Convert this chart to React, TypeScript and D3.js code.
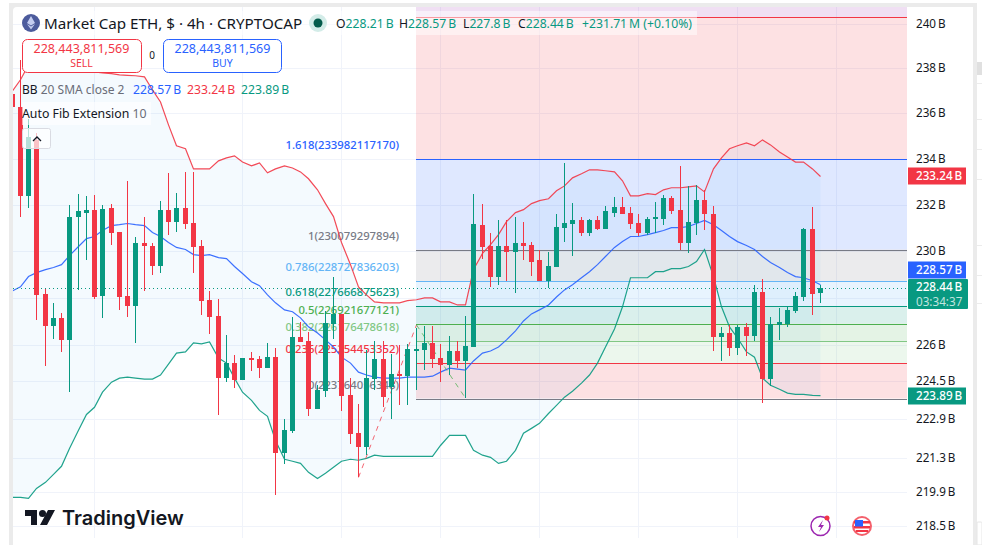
import * as d3 from "d3";

// all prices in billions, one row per 4h bar: [high, open, close, low]
const candleRows = [
  [237.04, 236.86, 236.29, 236.29], [238.37, 236.29, 232.40, 231.50], [235.76, 232.40, 234.97, 231.89], [235.14, 234.84, 228.14, 227.08],
  [228.40, 228.18, 226.82, 225.13], [227.80, 226.82, 227.16, 226.27], [227.38, 227.16, 226.23, 225.72], [232.01, 226.23, 231.50, 224.03],
  [232.49, 231.46, 231.72, 228.35], [232.40, 231.67, 231.80, 229.61], [232.45, 231.80, 228.05, 227.97], [232.01, 228.10, 231.84, 227.16],
  [232.06, 231.89, 230.81, 230.29], [230.85, 230.85, 228.05, 227.50], [233.05, 228.10, 227.67, 227.20], [230.60, 227.67, 230.34, 226.10],
  [231.50, 230.34, 230.21, 228.31], [230.34, 230.25, 229.39, 229.00], [232.19, 229.39, 231.80, 229.09], [233.40, 231.80, 231.28, 230.72],
  [232.53, 231.28, 231.89, 230.85], [233.44, 231.89, 231.20, 230.98], [233.44, 231.24, 230.17, 229.09], [230.47, 230.21, 227.89, 227.29],
  [228.31, 227.93, 227.20, 226.48], [227.97, 227.25, 224.62, 223.06], [226.44, 224.62, 225.25, 224.45], [225.59, 225.25, 224.53, 224.19],
  [225.46, 224.53, 225.46, 224.53], [225.72, 225.46, 225.42, 224.92], [225.55, 225.42, 225.04, 224.62], [226.10, 225.04, 225.50, 225.04],
  [225.88, 225.50, 221.49, 219.75], [222.93, 221.49, 222.44, 221.03], [227.20, 222.40, 226.36, 222.32], [226.99, 226.36, 226.14, 226.14],
  [226.57, 226.18, 223.31, 223.02], [224.32, 223.31, 224.11, 223.31], [227.46, 224.07, 226.95, 223.82], [228.92, 226.91, 227.33, 226.27],
  [227.33, 227.33, 223.86, 223.23], [224.62, 223.90, 222.27, 221.89], [223.52, 222.32, 221.73, 220.49], [225.80, 221.73, 224.62, 221.41],
  [226.18, 224.58, 225.42, 224.11], [226.18, 225.42, 223.82, 223.40], [225.63, 224.24, 224.79, 222.89], [226.01, 224.79, 224.70, 223.48],
  [226.06, 224.70, 225.84, 223.48], [226.74, 225.80, 225.84, 224.11], [226.82, 225.80, 226.10, 224.96], [226.82, 226.10, 225.42, 225.04],
  [226.06, 225.46, 225.17, 224.45], [226.40, 225.17, 225.76, 224.75], [226.18, 225.76, 225.34, 225.04], [227.25, 225.34, 225.97, 223.78],
  [232.49, 225.93, 231.20, 225.93], [232.06, 231.15, 230.17, 229.69], [230.77, 230.21, 228.92, 228.48], [231.33, 228.92, 230.21, 228.57],
  [231.33, 230.21, 229.99, 228.74], [231.46, 229.99, 230.38, 228.23], [231.28, 230.38, 230.25, 229.61], [230.42, 230.29, 229.56, 228.96],
  [230.08, 229.61, 228.74, 228.74], [229.99, 228.74, 229.39, 228.44], [231.63, 229.35, 231.07, 229.35], [233.83, 231.02, 231.24, 230.42],
  [232.10, 231.20, 231.37, 229.82], [231.46, 231.37, 230.77, 230.64], [231.41, 230.77, 231.37, 230.68], [231.54, 231.37, 230.98, 230.90],
  [231.97, 230.98, 231.72, 230.98], [232.36, 231.67, 231.93, 231.46], [232.36, 231.93, 231.63, 231.59], [231.93, 231.67, 231.20, 230.98],
  [231.59, 231.24, 230.81, 230.68], [231.50, 230.81, 231.41, 230.72], [232.14, 231.41, 231.46, 230.81], [232.45, 231.41, 232.32, 231.15],
  [232.40, 232.32, 231.76, 231.63], [233.70, 231.80, 230.38, 230.08], [232.83, 230.38, 231.28, 229.95], [232.88, 231.24, 232.23, 230.72],
  [232.66, 232.23, 231.59, 230.94], [231.97, 231.63, 226.36, 225.76], [226.78, 226.36, 226.52, 225.34], [226.86, 226.52, 225.88, 225.55],
  [226.86, 225.88, 226.78, 225.59], [226.95, 226.78, 226.40, 225.55], [228.57, 226.40, 228.27, 226.18], [228.83, 228.27, 224.58, 223.56],
  [227.20, 224.58, 226.91, 224.28], [227.59, 226.86, 226.99, 226.23], [227.63, 226.91, 227.50, 226.78], [228.27, 227.46, 228.10, 227.38],
  [231.02, 228.05, 230.98, 227.89], [231.93, 230.98, 228.18, 227.29], [228.57, 228.21, 228.44, 227.80],
];

const bbUpper = [
  237.00, 237.49, 238.15, 238.37, 238.37, 238.37, 238.28, 238.15, 238.02, 237.89, 237.84, 237.80, 237.76, 237.71, 237.69, 237.67, 237.62, 237.04, 236.51, 235.50,
  234.58, 234.45, 233.57, 233.57, 233.57, 233.92, 234.05, 234.14, 233.87, 233.70, 233.83, 233.40, 233.57, 233.70, 233.61, 233.44, 233.14, 232.66, 232.06, 231.50,
  230.38, 229.43, 228.48, 228.14, 227.84, 227.80, 227.80, 227.80, 227.89, 227.93, 228.01, 228.01, 227.84, 227.84, 227.71, 227.71, 229.22, 229.91, 230.29, 230.72,
  231.28, 231.67, 231.80, 232.06, 232.19, 232.27, 232.62, 232.83, 233.18, 233.36, 233.53, 233.53, 233.49, 233.44, 233.05, 232.40, 232.40, 232.49, 232.45, 232.66,
  232.75, 232.75, 232.79, 232.83, 232.57, 233.57, 234.05, 234.45, 234.58, 234.71, 234.58, 234.84, 234.62, 234.31, 234.09, 233.87, 233.87, 233.57, 233.24,
];

const bbBasis = [
  228.31, 228.48, 228.92, 229.09, 229.22, 229.31, 229.43, 229.82, 230.21, 230.55, 230.64, 230.90, 231.11, 231.15, 231.20, 231.15, 231.11, 230.81, 230.64, 230.38,
  230.17, 230.08, 229.86, 229.82, 229.86, 229.73, 229.69, 229.35, 229.05, 228.70, 228.53, 228.14, 227.80, 227.50, 227.42, 227.16, 226.78, 226.52, 226.23, 225.93,
  225.50, 225.25, 224.87, 224.75, 224.66, 224.62, 224.62, 224.62, 224.66, 224.66, 224.66, 224.70, 224.87, 225.04, 225.00, 224.96, 225.34, 225.67, 225.76, 225.93,
  226.23, 226.61, 227.03, 227.33, 227.50, 227.71, 228.05, 228.35, 228.57, 228.87, 229.13, 229.43, 229.78, 230.17, 230.42, 230.64, 230.64, 230.72, 230.81, 230.90,
  231.02, 231.02, 231.07, 231.20, 231.33, 231.15, 230.90, 230.64, 230.42, 230.25, 230.08, 229.78, 229.52, 229.31, 229.09, 228.92, 228.87, 228.74, 228.57,
];

const bbLower = [
  219.67, 219.67, 219.63, 220.04, 220.29, 220.62, 220.95, 221.69, 222.44, 223.10, 223.40, 224.03, 224.45, 224.62, 224.66, 224.62, 224.58, 224.58, 224.75, 225.21,
  225.67, 225.72, 226.10, 226.06, 226.14, 225.46, 225.25, 224.62, 224.03, 223.69, 223.27, 223.02, 222.02, 221.24, 221.16, 221.07, 220.70, 220.45, 220.66, 220.91,
  221.16, 221.24, 221.20, 221.28, 221.41, 221.36, 221.36, 221.36, 221.36, 221.36, 221.36, 221.36, 221.81, 222.23, 222.23, 222.23, 221.61, 221.41, 221.32, 221.07,
  221.16, 221.61, 222.32, 222.52, 222.73, 223.14, 223.48, 223.82, 224.07, 224.41, 224.75, 225.25, 225.93, 226.69, 227.63, 228.87, 228.87, 228.87, 229.13, 229.13,
  229.26, 229.26, 229.35, 229.56, 230.08, 228.92, 227.63, 226.78, 226.31, 225.72, 225.50, 224.62, 224.32, 224.15, 223.99, 223.94, 223.94, 223.90, 223.89,
];

const priceTicks = [240, 238, 236, 234, 232, 230, 228, 226, 224.5, 222.9, 221.3, 219.9, 218.5];
const hiddenTickLabels = [228]; // sits under the last price tag
const timeGridBars = [10, 28, 40, 52, 64, 76, 88, 100];

const fibRatios = [4.236, 2.618, 1.618, 1, 0.786, 0.618, 0.5, 0.382, 0.236, 0];
const fibPrices = [
  250509273636, 240297358715, 233982117170, 230079297894, 228727836203, 227666875623, 226921677121, 226176478618, 225254453352,
  223764056348,
];
const fibColors = ["#9c27b0", "#f23645", "#2962ff", "#787b86", "#64b5f6", "#089981", "#4caf50", "#81c784", "#f23645", "#787b86"];
const FIRST_LABELLED_FIB = 2; // the two levels above this run off the top of the pane

// fib swing: low bar, high bar, retrace bar
const swingBars = [42, 49, 55];
const swingPrices = [220.49, 226.86, 223.78];

const RED = "#f23645";
const GREEN = "#089981";
const BLUE = "#2962ff";
const INK = "#131722";
const FONT = "'Noto Sans', sans-serif";
const LAST = 228.44;

const y = d3.scaleLog().domain([218.5, 240]).range([526, 23.5]);
const x = d3.scaleLinear().domain([0, 98]).range([12.05, 820.3]);
const CHART_RIGHT = 907;
const FIB_LEFT = 416;

const barX = (i: number) => Math.floor(x(i)) + 0.5;
const bandLine = d3.line<number>().x((_, i) => barX(i)).y((v) => y(v));
const bandArea = d3
  .area<number>()
  .x((_, i) => barX(i))
  .y0((_, i) => y(bbLower[i]))
  .y1((v) => y(v));

const ohlcItems = [
  { key: "O", value: "228.21\u2009B", x: 336 },
  { key: "H", value: "228.57\u2009B", x: 399 },
  { key: "L", value: "227.8\u2009B", x: 463 },
  { key: "C", value: "228.44\u2009B", x: 518 },
];
const sidebarLines = [83, 119, 149, 179, 245, 275, 303];

// nudge moves a tag off the last-price box, as the price scale stacks them
function PriceTag({ price, label, fill, nudge = 0 }: { price: number; label: string; fill: string; nudge?: number }) {
  const cy = Math.round(y(price)) + nudge;
  return (
    <g>
      <rect x={908} y={cy - 8.5} width={58} height={17} fill={fill} />
      <text x={916} y={cy + 4} fontSize={11.7} fontWeight={500} fill="#fff">
        {label}
      </text>
    </g>
  );
}

export default function App() {
  const swingA = { x1: barX(swingBars[0]), y1: y(swingPrices[0]), x2: barX(swingBars[1]), y2: y(swingPrices[1]) };
  const swingB = { x1: barX(swingBars[1]), y1: y(swingPrices[1]), x2: barX(swingBars[2]), y2: y(swingPrices[2]) };

  return (
    <div>
      <style>{`body{margin:0;background:#fff}`}</style>
      <svg width={982} height={545} style={{ display: "block" }} fontFamily={FONT}>
        <defs>
          <clipPath id="pane">
            <rect x={13} y={7} width={CHART_RIGHT - 13} height={533} />
          </clipPath>
        </defs>

        <rect width={982} height={545} fill="#fff" />
        <rect x={9} y={3} width={968} height={542} fill="#ebebeb" />
        <path d="M17 7H969a4 4 0 0 1 4 4V545H13V11a4 4 0 0 1 4-4Z" fill="#fff" />
        <rect x={977} y={62} width={5} height={13} fill="#e0e0e0" />
        {sidebarLines.map((ly) => (
          <rect key={ly} x={977} y={ly} width={5} height={1} fill="#ececec" />
        ))}

        <g clipPath="url(#pane)">
          {priceTicks.map((t) => (
            <line key={t} x1={13} x2={CHART_RIGHT} y1={Math.round(y(t)) + 0.5} y2={Math.round(y(t)) + 0.5} stroke="#f0f3fa" />
          ))}
          {timeGridBars.map((b) => (
            <line key={b} x1={barX(b)} x2={barX(b)} y1={7} y2={538} stroke="#f0f3fa" />
          ))}

          {/* fib extension zones, each coloured by its upper level */}
          {fibPrices.slice(0, -1).map((p, i) => {
            const top = y(p / 1e9);
            const bottom = y(fibPrices[i + 1] / 1e9);
            return <rect key={p} x={FIB_LEFT} y={top} width={CHART_RIGHT - FIB_LEFT} height={bottom - top} fill={fibColors[i]} opacity={0.15} />;
          })}

          <path d={bandArea(bbUpper) ?? ""} fill="#2196f3" opacity={0.05} />

          {fibPrices.map((p, i) => (
            <line
              key={p}
              x1={FIB_LEFT}
              x2={CHART_RIGHT}
              y1={Math.round(y(p / 1e9)) + 0.5}
              y2={Math.round(y(p / 1e9)) + 0.5}
              stroke={fibColors[i]}
              strokeWidth={1}
            />
          ))}

          {fibPrices.map((p, i) =>
            i < FIRST_LABELLED_FIB ? null : (
              <text key={p} x={399} y={y(p / 1e9) - 10} textAnchor="end" fontSize={11.3} fontWeight={500} fill={fibColors[i]}>
                {fibRatios[i]}({p})
              </text>
            ),
          )}

          <path d={bandLine(bbUpper) ?? ""} fill="none" stroke={RED} strokeWidth={1.2} strokeOpacity={0.9} />
          <path d={bandLine(bbBasis) ?? ""} fill="none" stroke={BLUE} strokeWidth={1.2} strokeOpacity={0.9} />
          <path d={bandLine(bbLower) ?? ""} fill="none" stroke={GREEN} strokeWidth={1.2} strokeOpacity={0.9} />

          <line {...swingA} stroke={RED} strokeDasharray="5 5" strokeWidth={1} opacity={0.75} />
          <line {...swingB} stroke="#4caf50" strokeDasharray="5 5" strokeWidth={1} opacity={0.75} />

          <line x1={13} x2={CHART_RIGHT} y1={Math.round(y(LAST)) + 0.5} y2={Math.round(y(LAST)) + 0.5} stroke={GREEN} strokeDasharray="1 3" />

          {candleRows.map(([high, open, close, low], i) => {
            const up = close >= open;
            const fill = up ? GREEN : RED;
            const cx = barX(i);
            const bodyTop = Math.round(y(Math.max(open, close)));
            const bodyBottom = Math.round(y(Math.min(open, close)));
            return (
              <g key={i} fill={fill}>
                <rect x={cx - 0.5} y={Math.round(y(high))} width={1} height={Math.max(1, Math.round(y(low)) - Math.round(y(high)))} />
                <rect x={cx - 2.5} y={bodyTop} width={5} height={Math.max(2, bodyBottom - bodyTop)} />
              </g>
            );
          })}
        </g>

        {/* price scale */}
        <rect x={CHART_RIGHT} y={7} width={66} height={538} fill="#fff" />
        {priceTicks
          .filter((t) => !hiddenTickLabels.includes(t))
          .map((t) => (
            <text key={t} x={916} y={y(t) + 4} fontSize={11.7} fill={INK}>
              {t}
              {"\u2009"}B
            </text>
          ))}
        <PriceTag price={233.24} label={"233.24\u2009B"} fill={RED} />
        <PriceTag price={228.57} label={"228.57\u2009B"} fill={BLUE} nudge={-15} />
        <PriceTag price={223.89} label={"223.89\u2009B"} fill={GREEN} />
        <rect x={908} y={279} width={60} height={30} fill={GREEN} rx={1} />
        <text x={916} y={291} fontSize={11.7} fontWeight={500} fill="#fff">
          {"228.44\u2009B"}
        </text>
        <text x={916} y={306} fontSize={11.7} fill="#fff" fillOpacity={0.75}>
          03:34:37
        </text>

        {/* header legend */}
        <rect x={22} y={11} width={675} height={24} fill="#fff" opacity={0.5} />
        <circle cx={31} cy={23} r={9} fill="#4c5b9c" />
        <path d="M31 16l4 7-4 2.4-4-2.4ZM27 24l4 2.4 4-2.4-4 5.6Z" fill="#c4cdf0" />
        <text x={44} y={29} fontSize={15.2} fill={INK}>
          Market Cap ETH, $ · 4h · CRYPTOCAP
        </text>
        <circle cx={318} cy={23} r={9} fill="#d3ece8" />
        <circle cx={318} cy={23} r={4.5} fill="#045c4c" />
        {ohlcItems.map((d) => (
          <text key={d.key} x={d.x} y={28} fontSize={12.2}>
            <tspan fill={INK}>{d.key}</tspan>
            <tspan fill={GREEN}>{d.value}</tspan>
          </text>
        ))}
        <text x={582} y={28} fontSize={12.2} fill={GREEN}>
          {"+231.71\u2009M (+0.10%)"}
        </text>

        <rect x={22.5} y={39.5} width={119} height={33} rx={5} fill="#fff" stroke={RED} />
        <text x={81.5} y={53} textAnchor="middle" fontSize={12.5} fill={RED}>
          228,443,811,569
        </text>
        <text x={81.5} y={67} textAnchor="middle" fontSize={10.5} fill={RED}>
          SELL
        </text>
        <text x={152} y={59} textAnchor="middle" fontSize={10} fill={INK}>
          0
        </text>
        <rect x={163.5} y={39.5} width={118} height={33} rx={5} fill="#fff" stroke={BLUE} />
        <text x={222.5} y={53} textAnchor="middle" fontSize={12.5} fill={BLUE}>
          228,443,811,569
        </text>
        <text x={222.5} y={67} textAnchor="middle" fontSize={10.5} fill={BLUE}>
          BUY
        </text>

        <text x={22} y={94} fontSize={12}>
          <tspan fill={INK}>BB</tspan>
          <tspan fill="#6a6d78"> 20 SMA close 2</tspan>
        </text>
        <text x={133} y={94} fontSize={12.2} fill={BLUE}>
          {"228.57\u2009B"}
        </text>
        <text x={187} y={94} fontSize={12.2} fill={RED}>
          {"233.24\u2009B"}
        </text>
        <text x={241} y={94} fontSize={12.2} fill={GREEN}>
          {"223.89\u2009B"}
        </text>

        <rect x={22} y={102} width={129} height={23} fill="#fff" opacity={0.6} />
        <text x={22} y={118} fontSize={12.3}>
          <tspan fill={INK}>Auto Fib Extension</tspan>
          <tspan fill="#6a6d78"> 10</tspan>
        </text>
        <rect x={22.5} y={128.5} width={28} height={20} rx={2} fill="#fff" fillOpacity={0.7} stroke="#d9dbe2" />
        <path d="M33 141l4-4 4 4" fill="none" stroke={INK} strokeWidth={1.3} />

        {/* bottom marks */}
        <path d="M25 510h12v15h-6v-9h-6ZM48 510h7l-8 15h-7Z" fill={INK} />
        <circle cx={42.5} cy={513.5} r={3.5} fill={INK} />
        <text x={62} y={525} fontSize={20} fontWeight={600} fontFamily="Inter, sans-serif" fill={INK}>
          TradingView
        </text>

        <circle cx={820.5} cy={526} r={9.5} fill="#fff" stroke="#9c27b0" strokeWidth={1.5} />
        <path d="M823 520l-5 7h3l-2 5 5-7h-3Z" fill="#9c27b0" />
        <circle cx={827} cy={518} r={2.5} fill={RED} />
        <circle cx={862} cy={526} r={10} fill="#f4606c" />
        <circle cx={862} cy={526} r={8} fill="#fff" />
        <rect x={854} y={521} width={16} height={2.5} fill={RED} />
        <rect x={854} y={526} width={16} height={2.5} fill={RED} />
        <rect x={856} y={530} width={12} height={2} fill={RED} />
        <rect x={855} y={520} width={8} height={6.5} fill="#2962ff" />

        <rect x={977} y={522} width={5} height={23} rx={1} fill="#fff" stroke="#e6e6e6" />
      </svg>
    </div>
  );
}
